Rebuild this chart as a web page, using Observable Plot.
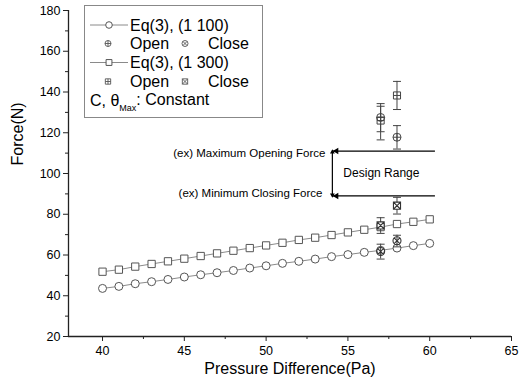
<!DOCTYPE html>
<html>
<head>
<meta charset="utf-8">
<script src="https://cdn.jsdelivr.net/npm/d3@7"></script>
<script src="https://cdn.jsdelivr.net/npm/@observablehq/plot@0.6"></script>
<style>
  html, body { margin: 0; padding: 0; background: #fff; }
  #wrap { position: relative; width: 526px; height: 383px; font-family: "Liberation Sans", Arial, sans-serif; }
  #legend { position: absolute; left: 84px; top: 5px; }
</style>
</head>
<body>
<div id="wrap"><div id="chart"></div><svg id="legend" width="180" height="114"></svg></div>
<script>
// ---- data ----
const pressure = [40, 41, 42, 43, 44, 45, 46, 47, 48, 49, 50, 51, 52, 53, 54, 55, 56, 57, 58, 59, 60];
const eq100 = [43.6, 44.6, 45.9, 46.9, 48.0, 49.2, 50.3, 51.3, 52.4, 53.6, 54.7, 55.9, 56.9, 58.0, 59.2, 60.2, 61.3, 62.3, 63.4, 64.6, 65.7];
const eq300 = [51.8, 52.8, 54.3, 55.6, 56.9, 58.2, 59.5, 60.8, 62.1, 63.4, 64.7, 66.0, 67.4, 68.5, 69.8, 71.1, 72.4, 73.7, 75.2, 76.3, 77.5];

const expPressure = [57, 58];
const open100 = [127.5, 117.8], open100Lo = [120.5, 112.0], open100Hi = [133.0, 123.5];
const close100 = [61.7, 67.0], close100Lo = [58.0, 64.0], close100Hi = [65.3, 69.7];
const open300 = [126.0, 138.3], open300Lo = [116.5, 131.4], open300Hi = [134.3, 145.2];
const close300 = [74.5, 84.2], close300Lo = [70.6, 80.1], close300Hi = [78.3, 88.3];

const maxOpeningForce = 111;
const minClosingForce = 89;
const designRangeX = [54.05, 60.35];

const xTicks = [40, 45, 50, 55, 60, 65];
const xMinorTicks = [42.5, 47.5, 52.5, 57.5, 62.5];
const yTicks = [20, 40, 60, 80, 100, 120, 140, 160, 180];
const yMinorTicks = [30, 50, 70, 90, 110, 130, 150, 170];

// ---- tables ----
const line100 = pressure.map((p, i) => ({p, f: eq100[i]}));
const line300 = pressure.map((p, i) => ({p, f: eq300[i]}));
const mk = (v, lo, hi) => expPressure.map((p, i) => ({p, f: v[i], lo: lo[i], hi: hi[i]}));
const o100 = mk(open100, open100Lo, open100Hi);
const c100 = mk(close100, close100Lo, close100Hi);
const o300 = mk(open300, open300Lo, open300Hi);
const c300 = mk(close300, close300Lo, close300Hi);
const allExp = [...o100, ...c100, ...o300, ...c300];

// ---- custom symbols ----
function makeSymbol(shape, inner) {
  return {
    draw(ctx, size) {
      if (shape === "circle") {
        const r = Math.sqrt(size / Math.PI);
        ctx.moveTo(r, 0); ctx.arc(0, 0, r, 0, 2 * Math.PI); ctx.closePath();
        if (inner === "plus") { ctx.moveTo(-r, 0); ctx.lineTo(r, 0); ctx.moveTo(0, -r); ctx.lineTo(0, r); }
        if (inner === "x") { const a = r * Math.SQRT1_2; ctx.moveTo(-a, -a); ctx.lineTo(a, a); ctx.moveTo(-a, a); ctx.lineTo(a, -a); }
      } else {
        const s = Math.sqrt(size) / 2;
        ctx.moveTo(-s, -s); ctx.lineTo(s, -s); ctx.lineTo(s, s); ctx.lineTo(-s, s); ctx.closePath();
        if (inner === "plus") { ctx.moveTo(-s, 0); ctx.lineTo(s, 0); ctx.moveTo(0, -s); ctx.lineTo(0, s); }
        if (inner === "x") { ctx.moveTo(-s, -s); ctx.lineTo(s, s); ctx.moveTo(-s, s); ctx.lineTo(s, -s); }
      }
    }
  };
}
const capSymbol = { draw(ctx, size) { const w = Math.sqrt(size / Math.PI); ctx.moveTo(-w, 0); ctx.lineTo(w, 0); } };

const markerStroke = "#555";
const lineStroke = "#8a8a8a";

const chart = Plot.plot({
  width: 526,
  height: 383,
  marginLeft: 68,
  marginRight: 15,
  marginTop: 10,
  marginBottom: 47,
  style: { fontFamily: "'Liberation Sans', Arial, sans-serif", background: "white", color: "black" },
  x: { domain: [37.92, 65] },
  y: { domain: [20, 180] },
  marks: [
    Plot.axisX(xTicks, { tickSize: 5, tickPadding: 5, fontSize: 12.5, label: null, stroke: "#222" }),
    Plot.axisX(xMinorTicks, { tickSize: 3, tickFormat: () => "", label: null, stroke: "#222" }),
    Plot.axisY(yTicks, { tickSize: 5, tickPadding: 3, fontSize: 12.5, label: null, stroke: "#222" }),
    Plot.axisY(yMinorTicks, { tickSize: 3, tickFormat: () => "", label: null, stroke: "#222" }),
    Plot.ruleX([37.92], { stroke: "#222", strokeWidth: 1.3 }),
    Plot.ruleY([20], { stroke: "#222", strokeWidth: 1.3 }),
    Plot.text(["Force(N)"], { frameAnchor: "left", dx: -51, dy: -8, rotate: -90, fontSize: 16 }),
    Plot.text(["Pressure Difference(Pa)"], { frameAnchor: "bottom", dy: 37, fontSize: 16 }),

    // design range
    Plot.ruleY([maxOpeningForce, minClosingForce], { x1: designRangeX[0], x2: designRangeX[1], stroke: "black", strokeWidth: 1.4 }),
    Plot.ruleX([designRangeX[0]], { y1: minClosingForce + 0.6, y2: maxOpeningForce - 0.6, stroke: "black", strokeWidth: 1.2 }),
    Plot.dot([maxOpeningForce, minClosingForce], { x: designRangeX[0] + 0.25, y: d => d, symbol: "triangle", rotate: -90, r: 2.4, fill: "black", stroke: "none" }),
    Plot.dot([maxOpeningForce], { x: designRangeX[0], y: d => d - 0.5, symbol: "triangle", r: 1.8, fill: "black", stroke: "none" }),
    Plot.dot([minClosingForce], { x: designRangeX[0], y: d => d + 0.5, symbol: "triangle", rotate: 180, r: 1.8, fill: "black", stroke: "none" }),
    Plot.text([maxOpeningForce], { x: designRangeX[0], y: d => d, text: () => "(ex) Maximum Opening Force", textAnchor: "end", dx: -7, dy: 2, fontSize: 11.5 }),
    Plot.text([minClosingForce], { x: designRangeX[0], y: d => d, text: () => "(ex) Minimum Closing Force", textAnchor: "end", dx: -10, dy: -3, fontSize: 11.5 }),
    Plot.text(["Design Range"], { x: designRangeX[0], y: (maxOpeningForce + minClosingForce) / 2, textAnchor: "start", dx: 11, fontSize: 12 }),

    // model lines
    Plot.line(line100, { x: "p", y: "f", stroke: lineStroke, strokeWidth: 1 }),
    Plot.line(line300, { x: "p", y: "f", stroke: lineStroke, strokeWidth: 1 }),
    Plot.dot(line100, { x: "p", y: "f", symbol: "circle", r: 4, fill: "white", stroke: markerStroke, strokeWidth: 1 }),
    Plot.dot(line300, { x: "p", y: "f", symbol: makeSymbol("square", null), r: 4.1, fill: "white", stroke: markerStroke, strokeWidth: 1 }),

    // error bars
    Plot.ruleX(allExp, { x: "p", y1: "lo", y2: "hi", stroke: "#444", strokeWidth: 1 }),
    Plot.dot(allExp, { x: "p", y: "lo", symbol: capSymbol, r: 4, fill: "none", stroke: "#444", strokeWidth: 1 }),
    Plot.dot(allExp, { x: "p", y: "hi", symbol: capSymbol, r: 4, fill: "none", stroke: "#444", strokeWidth: 1 }),

    // experimental markers
    Plot.dot(o300, { x: "p", y: "f", symbol: makeSymbol("square", "plus"), r: 4, fill: "white", fillOpacity: 0.6, stroke: "#444", strokeWidth: 1 }),
    Plot.dot(o100, { x: "p", y: "f", symbol: makeSymbol("circle", "plus"), r: 4, fill: "none", stroke: "#444", strokeWidth: 1 }),
    Plot.dot(c300, { x: "p", y: "f", symbol: makeSymbol("square", "x"), r: 4, fill: "white", stroke: "#333", strokeWidth: 1.1 }),
    Plot.dot(c100, { x: "p", y: "f", symbol: makeSymbol("circle", "x"), r: 4, fill: "none", stroke: "#333", strokeWidth: 1.1 })
  ]
});
document.getElementById("chart").appendChild(chart);

// ---- legend ----
const lg = d3.select("#legend");
lg.append("rect").attr("x", 0.5).attr("y", 0.5).attr("width", 178).attr("height", 112)
  .attr("fill", "white").attr("stroke", "#888").attr("stroke-width", 1);
const symPath = (shape, inner, r) => {
  const size = Math.PI * r * r;
  return d3.symbol().type(makeSymbol(shape, inner)).size(size)();
};
const rowY = [20, 38.5, 57.5, 76.5, 95];
const legendRows = [
  {type: "line", shape: "circle", label: "Eq(3), (1 100)"},
  {type: "pair", shape: "circle"},
  {type: "line", shape: "square", label: "Eq(3), (1 300)"},
  {type: "pair", shape: "square"}
];
legendRows.forEach((row, i) => {
  const y = rowY[i];
  if (row.type === "line") {
    lg.append("line").attr("x1", 6).attr("x2", 44).attr("y1", y).attr("y2", y).attr("stroke", lineStroke);
    lg.append("path").attr("transform", `translate(25,${y})`).attr("d", symPath(row.shape, null, 3.3))
      .attr("fill", "white").attr("stroke", markerStroke);
    lg.append("text").attr("x", 46).attr("y", y).attr("dy", "0.36em").attr("font-size", 16).text(row.label);
  } else {
    lg.append("path").attr("transform", `translate(24,${y})`).attr("d", symPath(row.shape, "plus", 3))
      .attr("fill", "none").attr("stroke", markerStroke).attr("stroke-width", 0.9);
    lg.append("text").attr("x", 46).attr("y", y).attr("dy", "0.36em").attr("font-size", 16).text("Open");
    lg.append("path").attr("transform", `translate(101,${y})`).attr("d", symPath(row.shape, "x", 3))
      .attr("fill", "none").attr("stroke", markerStroke).attr("stroke-width", 0.9);
    lg.append("text").attr("x", 124).attr("y", y).attr("dy", "0.36em").attr("font-size", 16).text("Close");
  }
});
const t5 = lg.append("text").attr("x", 6).attr("y", rowY[4]).attr("dy", "0.36em").attr("font-size", 16);
t5.append("tspan").text("C, \u03B8");
t5.append("tspan").attr("font-size", 9).attr("dy", "0.55em").text("Max");
t5.append("tspan").attr("dy", "-0.35em").text(": Constant");
</script>
</body>
</html>
